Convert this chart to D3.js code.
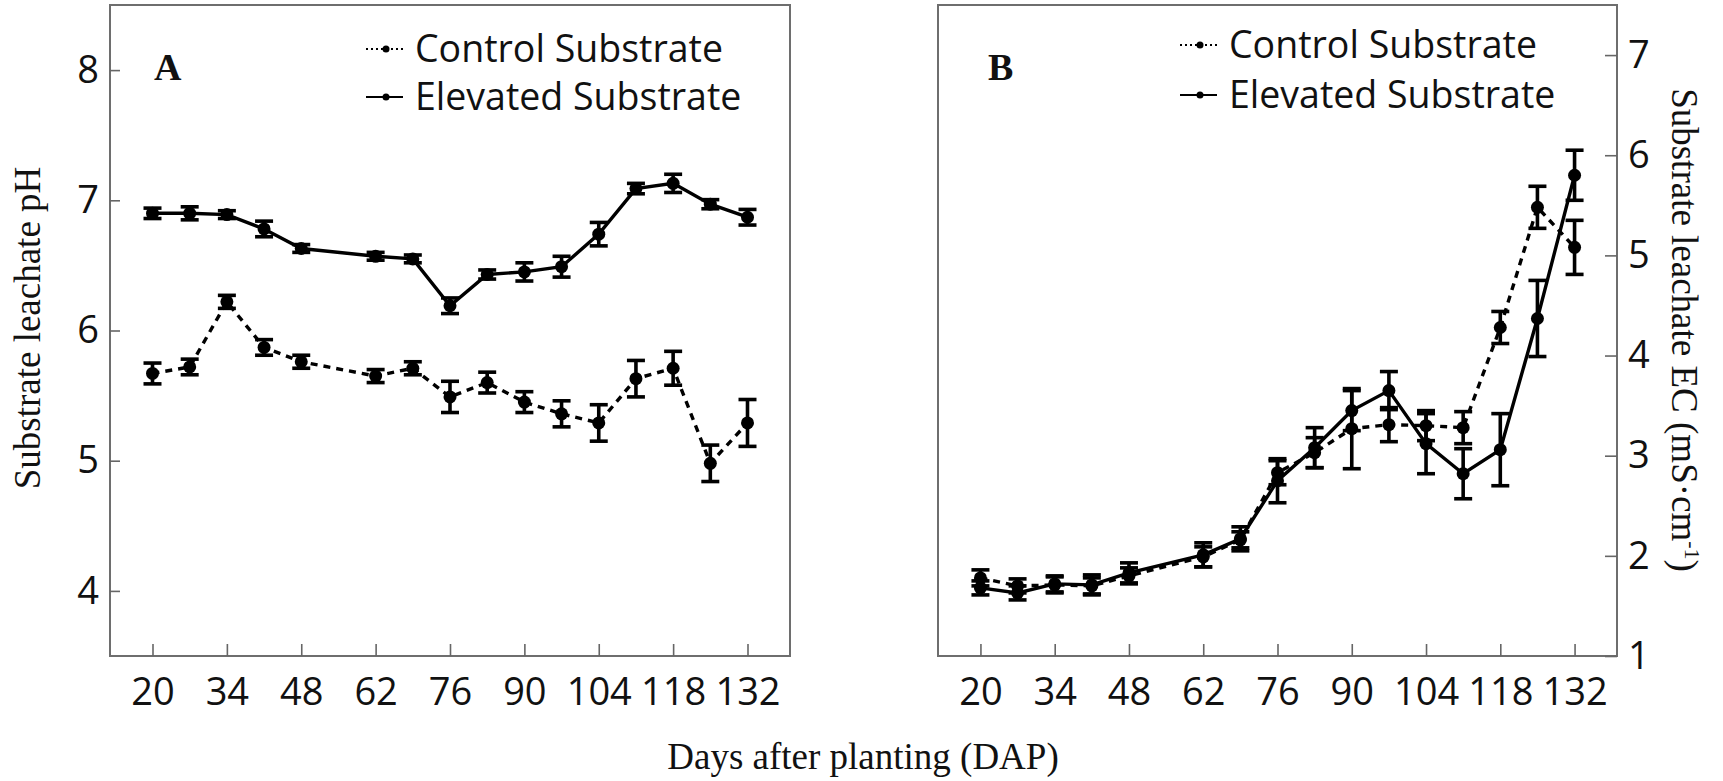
<!DOCTYPE html>
<html>
<head>
<meta charset="utf-8">
<script src="https://cdn.jsdelivr.net/npm/d3@7"></script>
<style>
  html, body { margin: 0; padding: 0; background: #fff; }
  svg { display: block; }
  .tick text { font-family: "Open Sans", sans-serif; font-size: 38px; fill: #111; }
  .tick line { stroke: #666; stroke-width: 1.6; }
  .serif { font-family: "Liberation Serif", "Times New Roman", serif; fill: #111; }
  .legend { font-family: "Open Sans", sans-serif; font-size: 37.5px; fill: #111; }
</style>
</head>
<body>
<svg id="chart" width="1723" height="781"></svg>
<script>
// Sampling days (days after planting)
const days = [20, 27, 34, 41, 48, 62, 69, 76, 83, 90, 97, 104, 111, 118, 125, 132];
const dayTicks = [20, 34, 48, 62, 76, 90, 104, 118, 132];

// Leachate pH (mean and standard error)
const phControl    = [5.67, 5.72, 6.22, 5.87, 5.76, 5.65, 5.71, 5.49, 5.60, 5.45, 5.36, 5.29, 5.63, 5.71, 4.98, 5.29];
const phControlSE  = [0.08, 0.06, 0.05, 0.06, 0.05, 0.05, 0.05, 0.12, 0.08, 0.08, 0.10, 0.14, 0.14, 0.13, 0.14, 0.18];
const phElevated   = [6.90, 6.90, 6.89, 6.78, 6.63, 6.57, 6.55, 6.19, 6.43, 6.45, 6.49, 6.74, 7.09, 7.13, 6.97, 6.87];
const phElevatedSE = [0.04, 0.05, 0.03, 0.06, 0.03, 0.03, 0.03, 0.06, 0.035, 0.07, 0.08, 0.09, 0.04, 0.07, 0.035, 0.06];
const phTicks = [4, 5, 6, 7, 8];

// Leachate EC, mS·cm-1 (mean and standard error)
const ecControl    = [1.78, 1.70, 1.71, 1.70, 1.80, 1.99, 2.16, 2.83, 3.03, 3.27, 3.31, 3.30, 3.28, 4.28, 5.48, 5.08];
const ecControlSE  = [0.08, 0.07, 0.08, 0.08, 0.08, 0.10, 0.08, 0.12, 0.15, 0.40, 0.17, 0.15, 0.16, 0.16, 0.21, 0.27];
const ecElevated   = [1.68, 1.63, 1.72, 1.71, 1.83, 2.01, 2.17, 2.75, 3.08, 3.45, 3.65, 3.12, 2.82, 3.06, 4.37, 5.80];
const ecElevatedSE = [0.07, 0.07, 0.08, 0.10, 0.10, 0.12, 0.12, 0.22, 0.20, 0.20, 0.19, 0.30, 0.25, 0.36, 0.38, 0.25];
const ecTicks = [1, 2, 3, 4, 5, 6, 7];

const seriesNames = ["Control Substrate", "Elevated Substrate"];

const svg = d3.select("#chart");
svg.append("rect").attr("width", 1723).attr("height", 781).attr("fill", "#fff");

const intFmt = d3.format("d");

function drawPanel(opt) {
  const x = d3.scaleLinear().domain([12, 140]).range([opt.left, opt.right]);
  const y = d3.scaleLinear().domain(opt.yDomain).range([656, 5]);
  const g = svg.append("g");

  // frame
  g.append("rect")
    .attr("x", opt.left).attr("y", y.range()[1])
    .attr("width", opt.right - opt.left).attr("height", y.range()[0] - y.range()[1])
    .attr("fill", "none").attr("stroke", "#6e6e6e").attr("stroke-width", 2);

  // x axis, ticks pointing inward
  const xAxis = g.append("g").attr("transform", `translate(0,${y.range()[0]})`)
    .call(d3.axisBottom(x).tickValues(dayTicks).tickFormat(intFmt)
      .tickSizeInner(-12).tickSizeOuter(0).tickPadding(22));
  xAxis.select(".domain").remove();

  // y axis, ticks pointing inward
  let yAxis;
  if (opt.side === "left") {
    yAxis = g.append("g").attr("transform", `translate(${opt.left},0)`)
      .call(d3.axisLeft(y).tickValues(opt.yTicks).tickFormat(intFmt)
        .tickSizeInner(-10).tickSizeOuter(0).tickPadding(11));
  } else {
    yAxis = g.append("g").attr("transform", `translate(${opt.right},0)`)
      .call(d3.axisRight(y).tickValues(opt.yTicks).tickFormat(intFmt)
        .tickSizeInner(-12).tickSizeOuter(0).tickPadding(11));
  }
  yAxis.select(".domain").remove();

  const series = [
    { vals: opt.control, se: opt.controlSE, dash: "7,6" },
    { vals: opt.elevated, se: opt.elevatedSE, dash: null }
  ];

  const line = d3.line().x((d) => x(d[0])).y((d) => y(d[1]));

  series.forEach((s) => {
    const pts = days.map((d, i) => [d, s.vals[i], s.se[i]]);
    g.append("path")
      .datum(pts)
      .attr("d", line)
      .attr("fill", "none")
      .attr("stroke", "#000")
      .attr("stroke-width", 3.4)
      .attr("stroke-dasharray", s.dash);

    const eb = g.append("g").attr("stroke", "#000").attr("stroke-width", 3.6);
    pts.forEach((p) => {
      const cx = x(p[0]), y0 = y(p[1] - p[2]), y1 = y(p[1] + p[2]);
      eb.append("line").attr("x1", cx).attr("x2", cx).attr("y1", y0).attr("y2", y1);
      eb.append("line").attr("x1", cx - 9).attr("x2", cx + 9).attr("y1", y0).attr("y2", y0);
      eb.append("line").attr("x1", cx - 9).attr("x2", cx + 9).attr("y1", y1).attr("y2", y1);
    });

    g.append("g").selectAll("circle").data(pts).join("circle")
      .attr("cx", (p) => x(p[0])).attr("cy", (p) => y(p[1]))
      .attr("r", 6.5).attr("fill", "#000");
  });

  // panel letter
  g.append("text").attr("class", "serif")
    .attr("x", opt.letterX).attr("y", 80)
    .attr("font-size", 38).attr("font-weight", "bold")
    .text(opt.letter);

  // legend
  const lg = g.append("g");
  seriesNames.forEach((name, i) => {
    const base = opt.legendBase[i];
    const ly = base - 13;
    lg.append("line")
      .attr("x1", opt.legendX).attr("x2", opt.legendX + 37)
      .attr("y1", ly).attr("y2", ly)
      .attr("stroke", "#000").attr("stroke-width", 1.8)
      .attr("stroke-dasharray", i === 0 ? "2,3" : null);
    lg.append("circle").attr("cx", opt.legendX + 20).attr("cy", ly).attr("r", 3.5).attr("fill", "#000");
    lg.append("text").attr("class", "legend")
      .attr("x", opt.legendX + 49).attr("y", base).text(name);
  });
}

drawPanel({
  left: 110, right: 790, side: "left",
  yDomain: [3.5, 8.5], yTicks: phTicks,
  control: phControl, controlSE: phControlSE,
  elevated: phElevated, elevatedSE: phElevatedSE,
  letter: "A", letterX: 154,
  legendX: 366, legendBase: [62, 110]
});

drawPanel({
  left: 938, right: 1617, side: "right",
  yDomain: [1, 7.5], yTicks: ecTicks,
  control: ecControl, controlSE: ecControlSE,
  elevated: ecElevated, elevatedSE: ecElevatedSE,
  letter: "B", letterX: 988,
  legendX: 1180, legendBase: [58, 108]
});

// axis titles
svg.append("text").attr("class", "serif")
  .attr("font-size", 37)
  .attr("text-anchor", "middle")
  .attr("transform", "translate(40,328) rotate(-90)")
  .text("Substrate leachate pH");

const ecTitle = svg.append("text").attr("class", "serif")
  .attr("font-size", 37)
  .attr("text-anchor", "middle")
  .attr("transform", "translate(1672,330) rotate(90)");
ecTitle.append("tspan").text("Substrate leachate EC (mS·cm");
ecTitle.append("tspan").attr("font-size", 22).attr("dy", -13).text("-1");
ecTitle.append("tspan").attr("dy", 13).text(")");

svg.append("text").attr("class", "serif")
  .attr("font-size", 37)
  .attr("text-anchor", "middle")
  .attr("x", 863).attr("y", 769)
  .text("Days after planting (DAP)");
</script>
</body>
</html>
